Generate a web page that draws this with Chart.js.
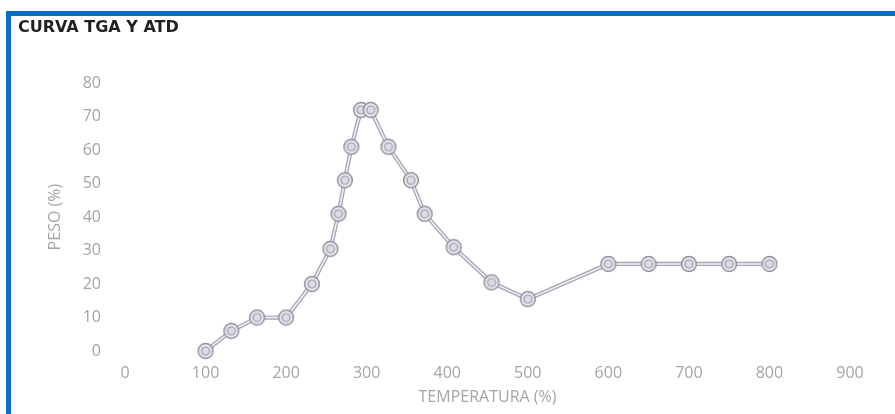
<!DOCTYPE html>
<html>
<head>
<meta charset="utf-8">
<script src="https://cdn.jsdelivr.net/npm/chart.js@4.4.1/dist/chart.umd.min.js"></script>
<style>
  html, body { margin: 0; padding: 0; background: #ffffff; }
  #wrap { position: relative; width: 895px; height: 414px; overflow: hidden; background: #ffffff; }
  #frame { position: absolute; left: 6px; top: 11px; width: 900px; height: 420px;
           border-top: 5px solid #0a6fc2; border-left: 5px solid #0a6fc2; box-sizing: border-box; pointer-events: none; }
  canvas { position: absolute; left: 0; top: 0; }
</style>
</head>
<body>
<div id="wrap">
  <canvas id="c" width="895" height="414"></canvas>
  <div id="frame"></div>
</div>
<script>
// ---- data ----
const chartTitle = 'CURVA TGA Y ATD';
const xTitle = 'TEMPERATURA (%)';
const yTitle = 'PESO (%)';
const temperatura = [100, 132, 164, 200, 232, 255, 265, 273, 281, 293, 305, 327, 355, 372, 408, 455, 500, 600, 650, 700, 750, 800];
const peso        = [0,   6,   10,  10,  20,  30.5, 41, 51,  61,  72,  72,  61,  51,  41,  31,  20.5, 15.5, 26, 26, 26, 26, 26];
const xTicks = [0, 100, 200, 300, 400, 500, 600, 700, 800, 900];
const yTicks = [0, 10, 20, 30, 40, 50, 60, 70, 80];

const points = temperatura.map((t, i) => ({ x: t, y: peso[i] }));

// double-ring marker image
function makeMarker() {
  const c = document.createElement('canvas');
  c.width = 18; c.height = 18;
  const g = c.getContext('2d');
  g.beginPath(); g.arc(9, 9, 7.4, 0, Math.PI * 2);
  g.fillStyle = '#e9e8ef'; g.fill();
  g.lineWidth = 1.5; g.strokeStyle = '#93919f'; g.stroke();
  g.beginPath(); g.arc(9, 9, 4, 0, Math.PI * 2);
  g.fillStyle = '#dcdbe3'; g.fill();
  g.lineWidth = 1.2; g.strokeStyle = '#9c9aaa'; g.stroke();
  return c;
}
const marker = makeMarker();

const tickFont = { family: 'Open Sans', size: 16 };
const titleFont = { family: 'Open Sans', size: 16 };
const tickColor = '#a4a4a8';

new Chart(document.getElementById('c'), {
  type: 'scatter',
  data: {
    datasets: [
      {
        data: points, showLine: true, order: 2, clip: false,
        borderColor: '#a9a7b5', borderWidth: 4.2, pointRadius: 0, pointHoverRadius: 0
      },
      {
        data: points, showLine: true, order: 1, clip: false,
        borderColor: '#f2f1f6', borderWidth: 1.5,
        pointStyle: marker, pointRadius: 7, pointHoverRadius: 7
      }
    ]
  },
  options: {
    responsive: false,
    animation: false,
    events: [],
    layout: { padding: { left: 18, right: 45, top: 0, bottom: 0 } },
    plugins: {
      legend: { display: false },
      tooltip: { enabled: false },
      title: {
        display: true, text: chartTitle, align: 'start', color: '#231f20',
        font: { family: 'DejaVu Sans', size: 16, weight: 'bold' },
        padding: { top: 18, bottom: 46 }
      }
    },
    scales: {
      x: {
        type: 'linear', min: 0, max: 900,
        afterBuildTicks: s => { s.ticks = xTicks.map(v => ({ value: v })); },
        afterFit: s => { s.height = 63; },
        grid: { display: false, drawTicks: false },
        border: { display: false },
        ticks: { font: tickFont, color: tickColor, padding: 13, maxRotation: 0 },
        title: { display: true, text: xTitle, font: titleFont, color: tickColor, padding: { top: 0, bottom: 7 } }
      },
      y: {
        type: 'linear', min: 0, max: 80,
        afterBuildTicks: s => { s.ticks = yTicks.map(v => ({ value: v })); },
        afterFit: s => { s.width = 107; },
        grid: { display: false, drawTicks: false },
        border: { display: false },
        ticks: { font: tickFont, color: tickColor, padding: 24 },
        title: { display: true, text: yTitle, font: titleFont, color: tickColor, padding: { top: 28, bottom: 0 } }
      }
    }
  }
});
</script>
</body>
</html>
